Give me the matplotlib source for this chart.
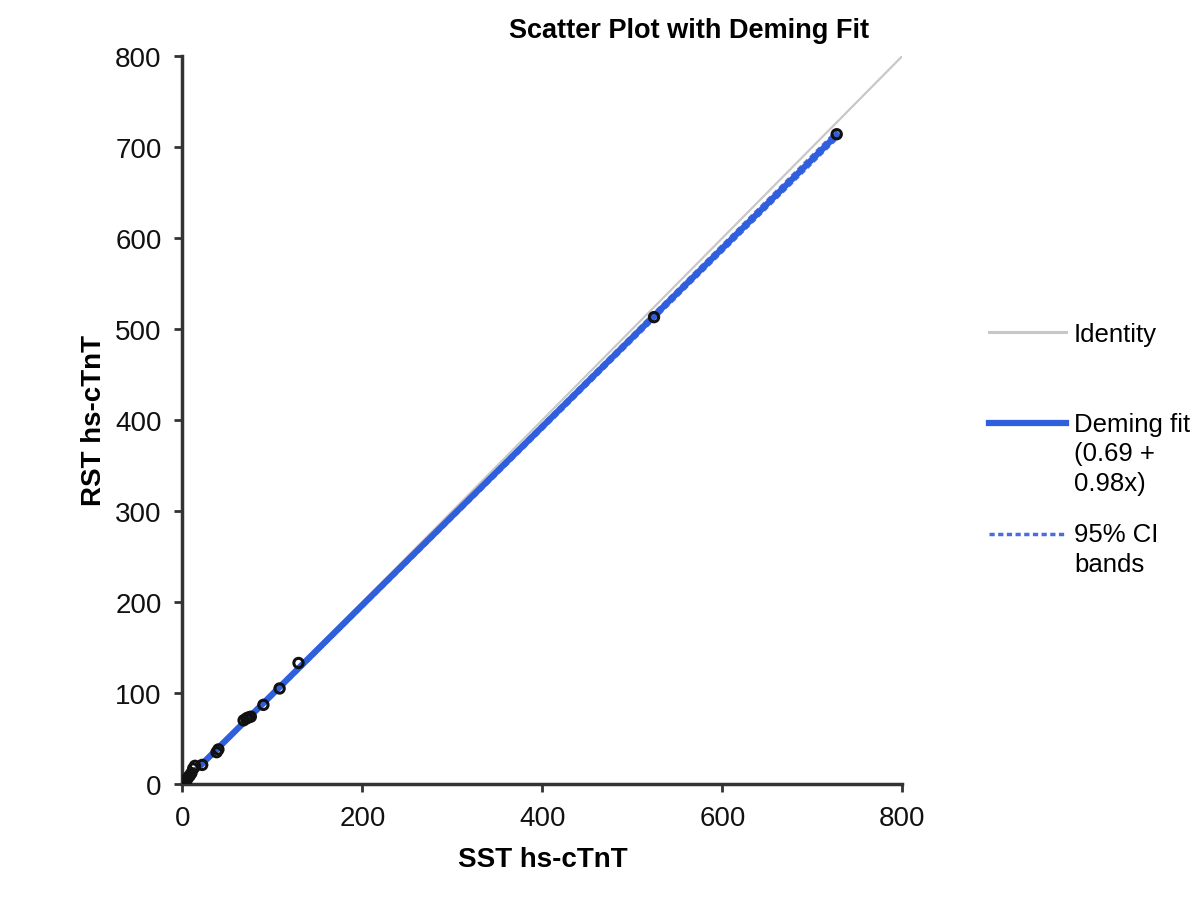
import numpy as np
import matplotlib
matplotlib.use("Agg")
import matplotlib.pyplot as plt
from matplotlib.legend_handler import HandlerLine2D

plt.rcParams['font.family'] = ['Liberation Sans', 'DejaVu Sans']

sst = [727, 524, 129, 108, 90, 76, 73, 71, 68, 40, 38, 22, 14, 12, 10, 8, 6, 5, 4, 3, 2, 1]
rst = [714, 513, 133, 105, 87, 74, 73, 72, 70, 38, 35, 21, 20, 17, 12, 9, 7, 5, 4, 3, 2, 1]

# Deming fit (0.69 + 0.98x) and 95% CI bands
fit_intercept = 0.69
fit_slope = 0.98
band_x = [1, 727]
band_lo = [0.4, 709.5]
band_hi = [1.4, 717]
identity_x = [0, 800]

blue = '#2f5fdc'
band_blue = '#4a6be6'


class TopLineHandler(HandlerLine2D):
    # put the handle next to the first line of a multi-line label
    def __init__(self, shift=0.0, **kw):
        super().__init__(**kw)
        self.shift = shift

    def create_artists(self, legend, orig_handle, xdescent, ydescent,
                       width, height, fontsize, trans):
        arts = super().create_artists(legend, orig_handle, xdescent, ydescent,
                                      width, height, fontsize, trans)
        for a in arts:
            if hasattr(a, 'get_ydata'):
                a.set_ydata(np.asarray(a.get_ydata()) + self.shift * fontsize)
        return arts


fig = plt.figure(figsize=(12, 9.04), dpi=100)
ax = fig.add_axes([0.152, 0.1316, 0.6, 0.8054])

fit_x = np.array([min(sst), max(sst)])
fit_y = fit_intercept + fit_slope * fit_x

l_id, = ax.plot(identity_x, identity_x, color='#c8c8c8', lw=1.6, zorder=1)
l_lo, = ax.plot(band_x, band_lo, color=band_blue, lw=2.5, ls=(0, (1.5, 1)), zorder=2)
ax.plot(band_x, band_hi, color=band_blue, lw=2.5, ls=(0, (1.5, 1)), zorder=2)
l_fit, = ax.plot(fit_x, fit_y, color=blue, lw=4.5, zorder=3)
ax.scatter(sst, rst, s=45, facecolors='none', edgecolors='#111111',
           linewidths=2.2, zorder=4)

ax.set_xlim(0, 800)
ax.set_ylim(0, 800)
ax.set_xticks([0, 200, 400, 600, 800])
ax.set_yticks([0, 100, 200, 300, 400, 500, 600, 700, 800])
for s in ['top', 'right']:
    ax.spines[s].set_visible(False)
for s in ['left', 'bottom']:
    ax.spines[s].set_linewidth(2.5)
    ax.spines[s].set_color('#333333')
ax.tick_params(direction='out', length=6, width=2, color='#333333',
               labelsize=20, pad=9, labelcolor='#111111')

ax.set_xlabel('SST hs-cTnT', fontsize=20, fontweight='bold', labelpad=11)
ax.set_ylabel('RST hs-cTnT', fontsize=20, fontweight='bold', labelpad=6)
fig.text(0.574, 0.966, 'Scatter Plot with Deming Fit', fontsize=19.5,
         fontweight='bold', ha='center', va='center')

leg1 = fig.legend([l_id], ['Identity'], loc='center left',
                  bbox_to_anchor=(0.805, 0.629), frameon=False, fontsize=18.5,
                  handlelength=3.0, handletextpad=0.3)
leg1.get_lines()[0].set_linewidth(2.2)
leg2 = fig.legend([l_fit, l_lo], ['Deming fit\n(0.69 +\n0.98x)', '95% CI\nbands'],
                  loc='upper left', bbox_to_anchor=(0.805, 0.569), frameon=False,
                  fontsize=18.5, handlelength=3.0, handletextpad=0.3,
                  labelspacing=1.05,
                  handler_map={l_fit: TopLineHandler(shift=1.22),
                               l_lo: TopLineHandler(shift=0.61)})
for t in leg2.get_texts():
    t.set_linespacing(1.3)

fig.savefig('out.png', dpi=100)
